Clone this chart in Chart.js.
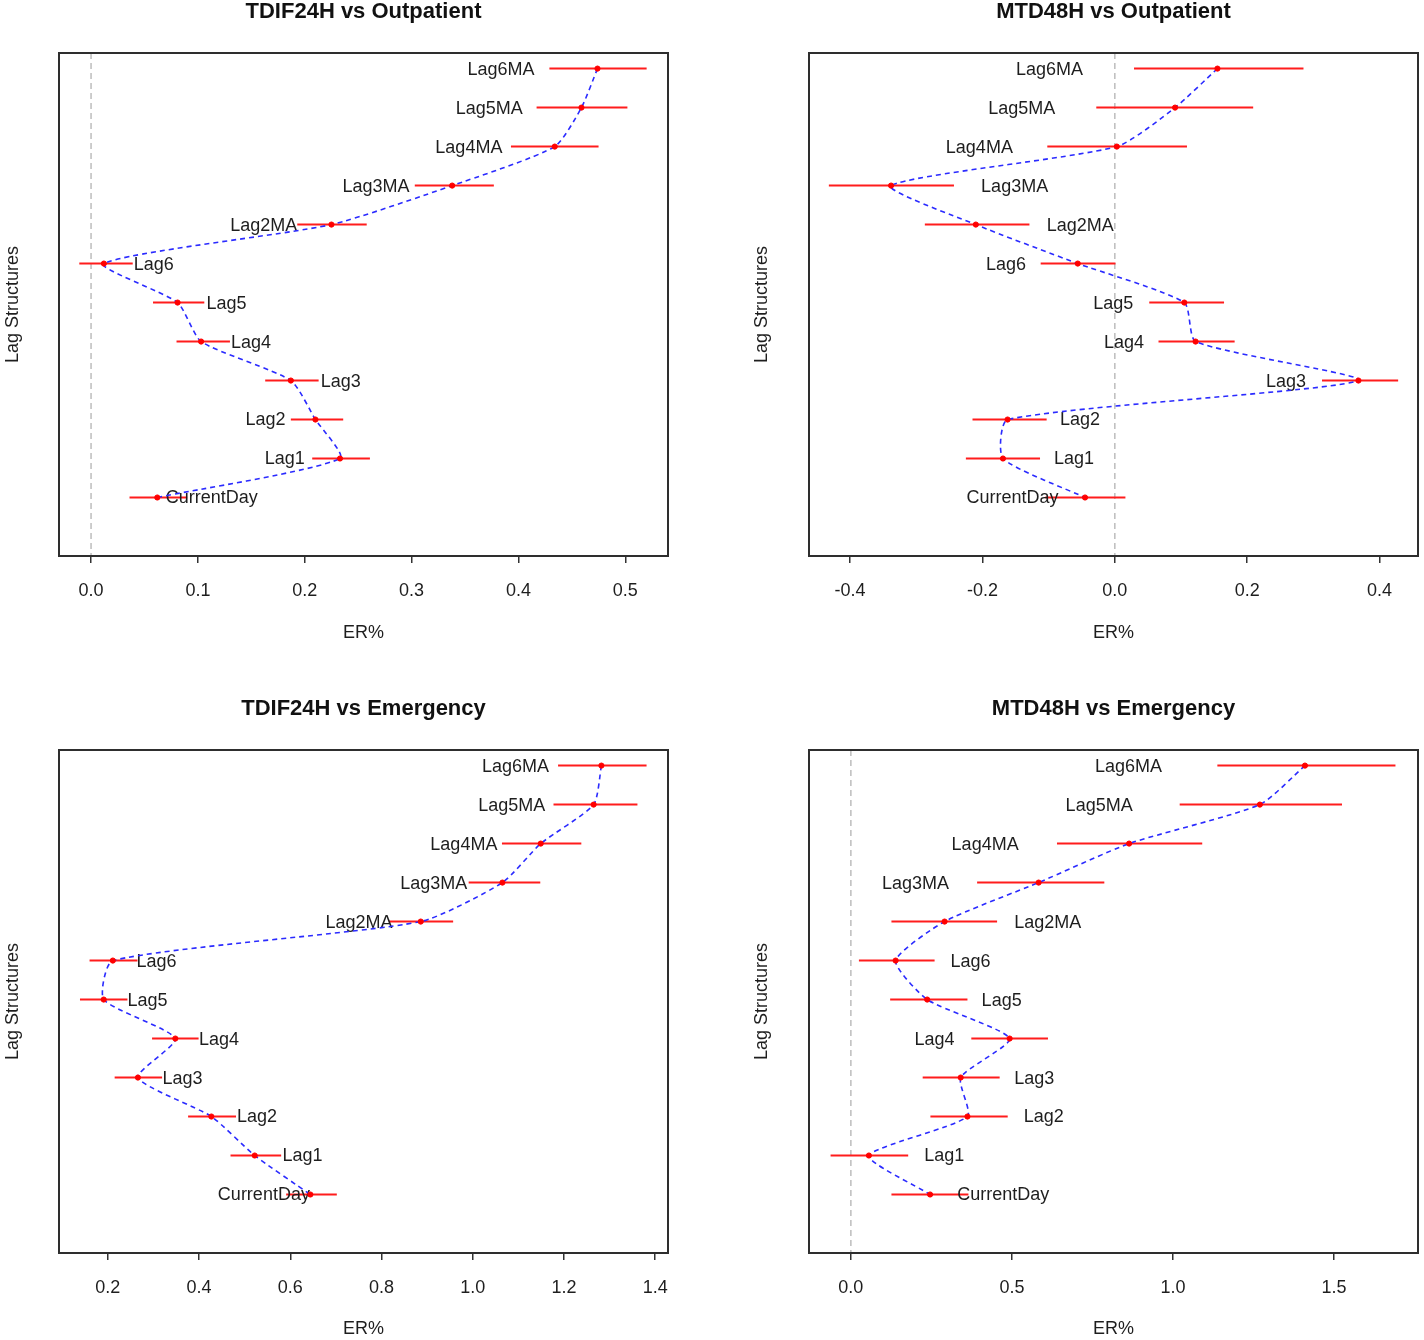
<!DOCTYPE html>
<html>
<head>
<meta charset="utf-8">
<script src="https://cdn.jsdelivr.net/npm/chart.js@4.4.1/dist/chart.umd.min.js"></script>
<style>
  body { margin: 0; background: #fff; width: 1424px; height: 1340px; position: relative; overflow: hidden; }
  .panel { position: absolute; }
</style>
</head>
<body>
<div class="panel" style="left:0;top:0"><canvas id="c1" width="712" height="697"></canvas></div>
<div class="panel" style="left:712px;top:0"><canvas id="c2" width="712" height="697"></canvas></div>
<div class="panel" style="left:0;top:697px"><canvas id="c3" width="712" height="643"></canvas></div>
<div class="panel" style="left:712px;top:697px"><canvas id="c4" width="712" height="643"></canvas></div>
<script>
// lag structures, top row of each panel first
const lags = ["Lag6MA", "Lag5MA", "Lag4MA", "Lag3MA", "Lag2MA", "Lag6", "Lag5", "Lag4", "Lag3", "Lag2", "Lag1", "CurrentDay"];
const rowPos = lags.map((_, i) => lags.length - i);

// TDIF24H vs Outpatient
const est1 = [0.474, 0.459, 0.434, 0.338, 0.225, 0.012, 0.081, 0.103, 0.187, 0.210, 0.233, 0.062];
const lo1 = [0.429, 0.417, 0.393, 0.303, 0.193, -0.011, 0.058, 0.080, 0.163, 0.187, 0.207, 0.036];
const hi1 = [0.520, 0.502, 0.475, 0.377, 0.258, 0.039, 0.106, 0.130, 0.213, 0.236, 0.261, 0.090];
const ticks1 = [0.0, 0.1, 0.2, 0.3, 0.4, 0.5];

// MTD48H vs Outpatient
const est2 = [0.155, 0.091, 0.003, -0.338, -0.210, -0.056, 0.105, 0.122, 0.368, -0.162, -0.169, -0.045];
const lo2 = [0.029, -0.028, -0.102, -0.432, -0.287, -0.112, 0.052, 0.066, 0.313, -0.215, -0.225, -0.105];
const hi2 = [0.285, 0.209, 0.109, -0.243, -0.129, 0.001, 0.165, 0.181, 0.428, -0.103, -0.113, 0.016];
const ticks2 = [-0.4, -0.2, 0.0, 0.2, 0.4];

// TDIF24H vs Emergency
const est3 = [1.282, 1.265, 1.149, 1.065, 0.886, 0.211, 0.191, 0.348, 0.266, 0.427, 0.522, 0.644];
const lo3 = [1.187, 1.177, 1.064, 0.991, 0.816, 0.160, 0.139, 0.297, 0.215, 0.376, 0.469, 0.591];
const hi3 = [1.381, 1.361, 1.238, 1.148, 0.957, 0.265, 0.243, 0.399, 0.319, 0.481, 0.580, 0.702];
const ticks3 = [0.2, 0.4, 0.6, 0.8, 1.0, 1.2, 1.4];

// MTD48H vs Emergency
const est4 = [1.410, 1.270, 0.864, 0.583, 0.291, 0.139, 0.237, 0.493, 0.341, 0.362, 0.056, 0.246];
const lo4 = [1.138, 1.021, 0.640, 0.392, 0.126, 0.025, 0.122, 0.374, 0.223, 0.247, -0.063, 0.126];
const hi4 = [1.691, 1.525, 1.091, 0.787, 0.454, 0.260, 0.362, 0.612, 0.462, 0.487, 0.178, 0.365];
const ticks4 = [0.0, 0.5, 1.0, 1.5];

// where each lag name sits (x in ER% units) and which side of it the text runs
const labelAt1 = [0.415, 0.404, 0.385, 0.298, 0.193, 0.040, 0.108, 0.131, 0.215, 0.182, 0.200, 0.070];
const side1 = ["L", "L", "L", "L", "L", "R", "R", "R", "R", "L", "L", "R"];
const labelAt2 = [-0.048, -0.090, -0.154, -0.202, -0.103, -0.134, 0.028, 0.044, 0.289, -0.083, -0.092, -0.085];
const side2 = ["L", "L", "L", "R", "R", "L", "L", "L", "L", "R", "R", "L"];
const labelAt3 = [1.167, 1.159, 1.054, 0.988, 0.824, 0.263, 0.243, 0.400, 0.320, 0.483, 0.583, 0.643];
const side3 = ["L", "L", "L", "L", "L", "R", "R", "R", "R", "R", "R", "L"];
const labelAt4 = [0.966, 0.875, 0.521, 0.305, 0.507, 0.309, 0.406, 0.322, 0.507, 0.537, 0.228, 0.330];
const side4 = ["L", "L", "L", "L", "R", "R", "R", "L", "R", "R", "R", "R"];

const FONT = "'Liberation Sans', Arial, sans-serif";
const TEXT = "#1e1e1e";

const forestPlugin = {
  id: "forest",
  beforeDatasetsDraw(chart, args, opts) {
    const { ctx, chartArea: a, scales: { x, y } } = chart;
    ctx.save();
    // dashed reference line at zero
    if (x.min < 0 && x.max > 0) {
      const px = x.getPixelForValue(0);
      ctx.strokeStyle = "#bdbdbd";
      ctx.lineWidth = 1.5;
      ctx.setLineDash([6, 4]);
      ctx.beginPath();
      ctx.moveTo(px, a.top);
      ctx.lineTo(px, a.bottom);
      ctx.stroke();
      ctx.setLineDash([]);
    }
    // confidence intervals
    ctx.strokeStyle = "#ff1c1c";
    ctx.lineWidth = 2;
    opts.lo.forEach((v, i) => {
      const py = y.getPixelForValue(rowPos[i]);
      ctx.beginPath();
      ctx.moveTo(x.getPixelForValue(v), py);
      ctx.lineTo(x.getPixelForValue(opts.hi[i]), py);
      ctx.stroke();
    });
    // lag names
    ctx.fillStyle = TEXT;
    ctx.font = "18px " + FONT;
    ctx.textBaseline = "middle";
    lags.forEach((name, i) => {
      ctx.textAlign = opts.side[i] === "L" ? "right" : "left";
      ctx.fillText(name, x.getPixelForValue(opts.labelAt[i]), y.getPixelForValue(rowPos[i]) + 1);
    });
    ctx.restore();
  },
  afterDraw(chart, args, opts) {
    const { ctx, chartArea: a } = chart;
    ctx.save();
    ctx.strokeStyle = "#2e2e2e";
    ctx.lineWidth = 2;
    ctx.strokeRect(a.left, a.top, a.right - a.left, a.bottom - a.top);
    ctx.fillStyle = "#111";
    ctx.font = "bold 22px " + FONT;
    ctx.textAlign = "center";
    ctx.textBaseline = "middle";
    ctx.fillText(opts.title, (a.left + a.right) / 2, 12);
    ctx.restore();
  }
};

function buildChart(id, title, est, lo, hi, tickVals, xMin, xMax, labelAt, side, isRight, canvasH) {
  const areaLeft = isRight ? 97 : 59;
  const areaRight = isRight ? 706 : 668;
  const top = canvasH > 660;
  return new Chart(document.getElementById(id).getContext("2d"), {
    type: "line",
    data: {
      datasets: [
        {
          data: est.map((v, i) => ({ x: v, y: rowPos[i] })),
          borderColor: "#2b2bff",
          borderWidth: 1.6,
          borderDash: [5, 4],
          tension: 0.2,
          fill: false,
          pointRadius: 2.6,
          pointBackgroundColor: "#ff0000",
          pointBorderColor: "#ff0000",
          pointBorderWidth: 1,
        },
      ],
    },
    options: {
      responsive: false,
      devicePixelRatio: 1,
      animation: false,
      layout: { padding: { top: 53, left: 0, right: 712 - areaRight, bottom: 0 } },
      plugins: {
        legend: { display: false },
        tooltip: { enabled: false },
        forest: { title, lo, hi, labelAt, side },
      },
      scales: {
        x: {
          type: "linear",
          position: "bottom",
          min: xMin,
          max: xMax,
          afterBuildTicks: (s) => { s.ticks = tickVals.map((v) => ({ value: v })); },
          afterFit: (s) => { s.height = canvasH - 556; },
          grid: { display: true, drawOnChartArea: false, drawTicks: true, tickLength: 7, color: "#333", lineWidth: 1.5 },
          border: { display: false },
          ticks: {
            autoSkip: false,
            maxRotation: 0,
            padding: 17,
            color: TEXT,
            font: { family: FONT, size: 18 },
            callback: (v) => Number(v).toFixed(1),
          },
          title: {
            display: true,
            text: "ER%",
            color: TEXT,
            font: { family: FONT, size: 18 },
            padding: { top: 0, bottom: top ? 53 : 0 },
          },
        },
        y: {
          type: "linear",
          position: "left",
          min: -0.5,
          max: 12.4,
          afterFit: (s) => { s.width = areaLeft; },
          grid: { display: false },
          border: { display: false },
          ticks: { display: false },
          title: {
            display: true,
            text: "Lag Structures",
            color: TEXT,
            font: { family: FONT, size: 18 },
            padding: { top: isRight ? 39 : 2, bottom: 0 },
          },
        },
      },
    },
    plugins: [forestPlugin],
  });
}

buildChart("c1", "TDIF24H vs Outpatient", est1, lo1, hi1, ticks1, -0.030, 0.540, labelAt1, side1, false, 697);
buildChart("c2", "MTD48H vs Outpatient", est2, lo2, hi2, ticks2, -0.462, 0.458, labelAt2, side2, true, 697);
buildChart("c3", "TDIF24H vs Emergency", est3, lo3, hi3, ticks3, 0.093, 1.428, labelAt3, side3, false, 643);
buildChart("c4", "MTD48H vs Emergency", est4, lo4, hi4, ticks4, -0.130, 1.761, labelAt4, side4, true, 643);
</script>
</body>
</html>
